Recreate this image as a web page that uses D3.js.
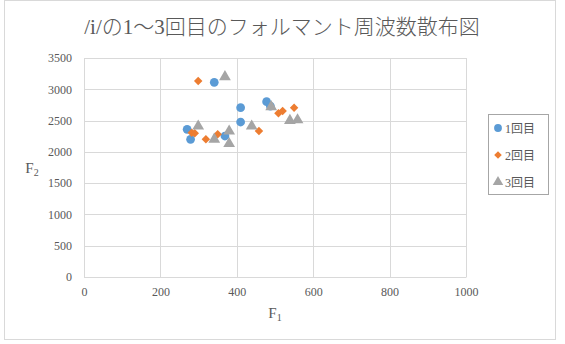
<!DOCTYPE html>
<html><head><meta charset="utf-8">
<script src="https://cdn.jsdelivr.net/npm/d3@7"></script>
<style>body{margin:0;background:#fff}svg{display:block}</style>
</head><body>
<script>
const seriesNames = ["1回目", "2回目", "3回目"];
const s1F1 = [270, 279, 341, 369, 410, 410, 478, 488];
const s1F2 = [2360, 2200, 3111, 2253, 2706, 2477, 2802, 2730];
const s2F1 = [299, 282, 290, 319, 350, 458, 509, 520, 550];
const s2F2 = [3131, 2306, 2296, 2200, 2280, 2333, 2616, 2653, 2706];
const s3F1 = [369, 299, 341, 380, 380, 439, 490, 539, 559];
const s3F2 = [3200, 2410, 2200, 2330, 2130, 2410, 2720, 2500, 2510];
const xTicks = [0, 200, 400, 600, 800, 1000];
const yTicks = [0, 500, 1000, 1500, 2000, 2500, 3000, 3500];
const colors = ["#5b9bd5", "#ed7d31", "#a5a5a5"];

const W = 565, H = 344;
const svg = d3.select("body").append("svg").attr("width", W).attr("height", H);
svg.append("rect").attr("x", 4.5).attr("y", 0.5).attr("width", 551).attr("height", 339)
  .attr("fill", "#fff").attr("stroke", "#d9d9d9");

const x = d3.scaleLinear().domain([0, 1000]).range([84, 466]);
const y = d3.scaleLinear().domain([0, 3500]).range([277, 58]);
const txt = "#595959";
const font = "'Liberation Serif','Noto Sans CJK JP',serif";

const g = svg.append("g");
g.selectAll(".h").data(yTicks).join("line")
  .attr("x1", 84).attr("x2", 466).attr("y1", d => Math.round(y(d)) + 0.5).attr("y2", d => Math.round(y(d)) + 0.5)
  .attr("stroke", "#d9d9d9");
g.selectAll(".v").data(xTicks).join("line")
  .attr("y1", 58).attr("y2", 277).attr("x1", d => Math.round(x(d)) + 0.5).attr("x2", d => Math.round(x(d)) + 0.5)
  .attr("stroke", "#d9d9d9");

const fmt = d3.format("d");
const xAxis = svg.append("g").attr("transform", "translate(0,277)")
  .call(d3.axisBottom(x).tickValues(xTicks).tickFormat(fmt).tickSize(0).tickPadding(10));
const yAxis = svg.append("g").attr("transform", "translate(84,0)")
  .call(d3.axisLeft(y).tickValues(yTicks).tickFormat(fmt).tickSize(0).tickPadding(12));
[xAxis, yAxis].forEach(a => {
  a.attr("font-family", font).attr("font-size", 12);
  a.select(".domain").attr("stroke", "#d9d9d9");
  a.selectAll("text").attr("fill", txt);
});

svg.append("text").attr("x", 282).attr("y", 34).attr("text-anchor", "middle")
  .attr("fill", txt).attr("font-family", font).attr("font-size", 21).attr("font-weight", 300)
  .text("/i/の1～3回目のフォルマント周波数散布図");

const xl = svg.append("text").attr("x", 275).attr("y", 318).attr("text-anchor", "middle")
  .attr("fill", txt).attr("font-family", font).attr("font-size", 15);
xl.append("tspan").text("F");
xl.append("tspan").attr("font-size", 10).attr("dy", 3).text("1");
const yl = svg.append("text").attr("x", 32).attr("y", 173).attr("text-anchor", "middle")
  .attr("fill", txt).attr("font-family", font).attr("font-size", 15);
yl.append("tspan").text("F");
yl.append("tspan").attr("font-size", 10).attr("dy", 3).text("2");

const sym = [d3.symbolCircle, d3.symbolSquare, d3.symbolTriangle];
const sizes = [60, 36, 60];
const rot = [0, 45, 0];
const data = [
  s1F1.map((v, i) => [v, s1F2[i]]),
  s2F1.map((v, i) => [v, s2F2[i]]),
  s3F1.map((v, i) => [v, s3F2[i]])
];
data.forEach((pts, si) => {
  svg.append("g").selectAll("path").data(pts).join("path")
    .attr("d", d3.symbol().type(sym[si]).size(sizes[si]))
    .attr("transform", d => `translate(${x(d[0])},${y(d[1])}) rotate(${rot[si]})`)
    .attr("fill", colors[si]);
});

svg.append("rect").attr("x", 488.5).attr("y", 114.5).attr("width", 60).attr("height", 80)
  .attr("fill", "#fff").attr("stroke", "#a6a6a6");
seriesNames.forEach((n, i) => {
  const ly = 128 + i * 27;
  svg.append("path").attr("d", d3.symbol().type(sym[i]).size(sizes[i] * 0.8))
    .attr("transform", `translate(498,${ly}) rotate(${rot[i]})`).attr("fill", colors[i]);
  svg.append("text").attr("x", 505).attr("y", ly + 4.5).attr("fill", txt)
    .attr("font-family", font).attr("font-size", 12).text(n);
});
</script>
</body></html>
